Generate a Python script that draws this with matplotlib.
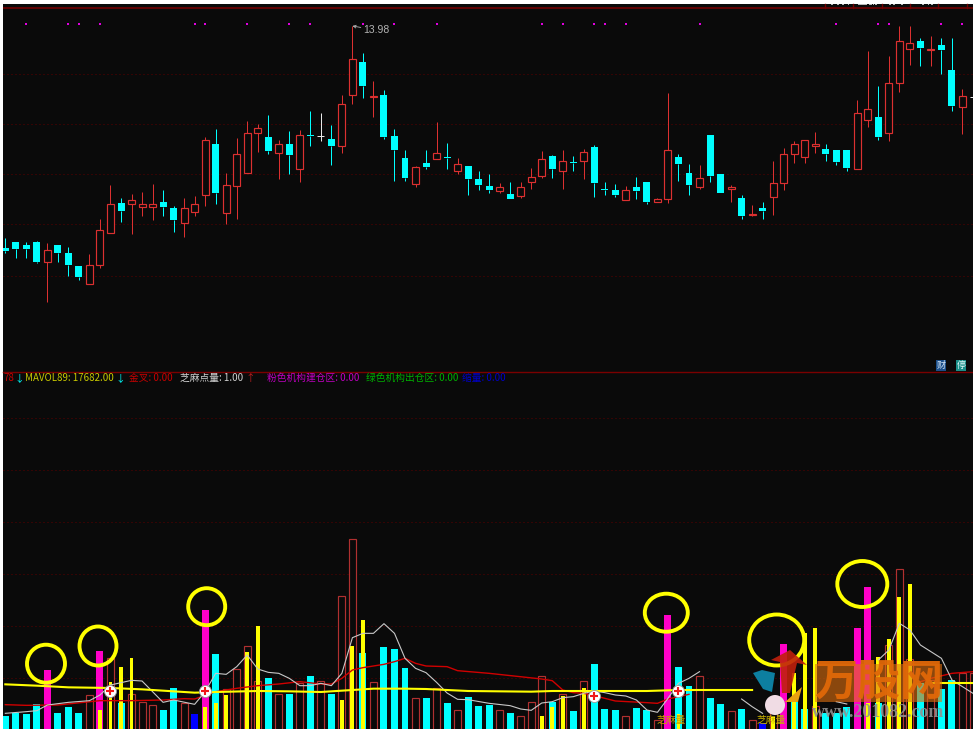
import numpy as np
import matplotlib
matplotlib.use('Agg')
import matplotlib.pyplot as plt
from matplotlib.patches import Ellipse, Rectangle, Polygon, Circle

plt.rcParams['font.family'] = ['Noto Sans CJK SC', 'DejaVu Sans']

# price candles
highs = [7.61,7.49,7.49,7.54,7.47,7.40,7.35,6.79,7.13,8.18,9.20,8.83,8.95,9.00,9.24,9.05,8.59,8.83,8.88,10.65,
         10.89,9.56,10.61,11.14,11.03,11.31,10.56,10.83,10.87,11.43,11.36,11.00,11.91,13.98,13.16,12.33,12.06,10.89,10.26,9.78,
         10.27,11.10,10.46,10.02,9.78,9.62,9.54,9.27,9.30,9.29,9.73,10.24,10.10,10.27,10.08,10.28,10.41,9.30,9.23,9.17,
         9.44,9.29,8.81,11.97,10.14,9.84,9.80,10.71,9.53,9.20,8.91,8.61,8.70,9.92,10.31,10.53,10.55,10.80,10.44,10.27,
         10.27,11.77,13.23,12.17,13.08,13.98,13.98,13.62,13.69,13.62,13.62,12.09,11.86]
tops = [7.32,7.49,7.40,7.49,7.27,7.40,7.17,6.79,6.80,7.85,8.63,8.66,8.75,8.65,8.65,8.69,8.51,8.51,8.63,10.55,
        10.43,9.21,10.13,10.76,10.91,10.65,10.45,10.43,10.70,10.71,10.69,10.58,11.65,13.00,12.89,11.89,11.91,10.67,10.01,9.74,
        9.87,10.16,10.06,9.83,9.78,9.38,9.17,9.14,8.95,9.14,9.46,9.99,10.09,9.92,9.90,10.19,10.34,9.08,9.05,9.05,
        9.14,9.29,8.80,10.25,10.06,9.58,9.41,10.70,9.53,9.14,8.83,8.33,8.51,9.26,10.13,10.43,10.55,10.43,10.29,10.26,
        10.26,11.37,11.50,11.24,12.27,13.54,13.46,13.52,13.30,13.40,12.65,11.87,11.86]
bots = [7.24,7.28,7.28,6.91,6.89,7.18,6.80,6.46,6.24,6.80,7.77,8.42,8.63,8.54,8.54,8.56,8.16,8.06,8.41,8.92,
        8.96,8.38,9.18,9.56,10.76,10.22,10.16,10.10,9.69,10.68,10.69,10.39,10.39,11.92,12.19,11.86,10.66,10.27,9.43,9.25,
        9.76,10.00,10.01,9.64,9.39,9.20,9.05,9.04,8.79,8.89,9.30,9.49,9.69,9.64,9.87,9.94,9.28,9.05,8.91,8.77,
        9.03,8.70,8.69,8.79,9.83,9.20,9.16,9.47,8.98,9.08,8.27,8.30,8.44,8.84,9.28,10.13,10.06,10.39,10.15,9.91,
        9.71,9.69,11.17,10.66,10.78,12.27,13.28,13.31,13.25,13.26,11.58,11.56,11.86]
lows = [7.18,7.03,7.03,6.86,5.70,6.91,6.49,6.35,6.24,6.72,7.77,8.10,7.74,8.27,8.15,8.29,7.81,7.66,8.29,8.59,
        8.64,8.05,8.20,9.56,10.20,10.15,9.39,9.54,9.31,10.39,10.53,9.81,10.18,11.65,11.82,11.24,10.58,9.33,9.32,9.15,
        9.69,10.00,9.69,9.53,8.92,9.07,8.97,8.97,8.79,8.82,9.09,9.42,9.43,9.09,9.63,9.39,8.85,8.92,8.85,8.77,
        8.78,8.65,8.69,8.68,9.33,8.90,9.10,9.29,8.98,8.70,8.20,8.28,8.19,8.30,9.07,9.87,9.87,10.17,9.92,9.82,
        9.63,9.69,10.95,10.56,10.53,11.99,12.81,12.77,12.77,12.54,11.43,10.75,11.86]
# r up, c down, w flat
candle_kind = ('cccc' 'r' 'ccc' 'rrr' 'c' 'rrr' 'cc' 'rrr' 'c' 'rrrr' 'c' 'r' 'c' 'r' 'c' 'w' 'c' 'rr' 'c' 'r'
               'ccc' 'r' 'c' 'r' 'c' 'r' 'ccc' 'r' 'c' 'rrr' 'c' 'r' 'c' 'r' 'ccc' 'r' 'cc' 'rr' 'cc' 'r'
               'cc' 'r' 'c' 'r' 'c' 'rrrrr' 'ccc' 'rr' 'c' 'rrr' 'c' 'r' 'cc' 'r' 'w')
dot_idx = [2,6,7,9,18,19,23,27,29,34,37,41,51,53,56,57,59,66,79,83,84,89,91]
price_grid = [12.53,11.03,9.53,8.03,6.49]
high_label = '13.98'

# volume bars, c cyan, r red outline, m magenta, b blue
volume = [9900,10900,10400,13400,23700,10800,12500,10800,16100,29300,27200,13700,16500,14100,13100,11800,18300,13900,10400,41700,
          28500,17900,23900,31000,20500,21300,16400,16400,19700,21800,20300,16600,45800,63000,28800,20200,30500,30000,24200,15200,
          15200,18200,13700,11700,15700,13000,13200,11700,10800,10000,14000,22000,14000,16400,11300,20500,25400,12000,11600,9800,
          12300,11600,8700,40200,24500,19000,21900,15400,13500,11300,12000,8700,7700,12000,31500,15000,12000,12900,10700,10700,
          12700,36300,48500,13700,31200,54000,27100,19700,20700,17900,20700,22700,22700]
vol_kind = ('cccc' 'm' 'ccc' 'r' 'm' 'r' 'c' 'rrr' 'cc' 'r' 'b' 'm' 'c' 'rrrr' 'c' 'r' 'c' 'r' 'c' 'r' 'c' 'rr' 'c' 'r'
            'ccc' 'r' 'c' 'r' 'c' 'r' 'ccc' 'r' 'c' 'rrr' 'c' 'r' 'c' 'r' 'ccc' 'r' 'cc' 'r' 'm' 'cc' 'r'
            'cc' 'r' 'c' 'r' 'b' 'r' 'm' 'cc' 'r' 'ccc' 'mm' 'c' 'rrr' 'c' 'r' 'cc' 'rr')
yellow_idx = [9,10,11,12,19,20,21,23,24,32,33,34,51,52,53,55,64,73,75,76,77,82,83,84,85,86]
yellow_val = [11700,20200,24600,27300,12700,13700,16200,29000,36900,14700,31000,38800,9900,12500,15900,18300,10500,9700,22700,34700,36300,13700,27500,32900,45500,49500]

# the three moving averages, nan where the logo hides them
ma89_idx = [0,3,6,10,13,16,18,20,24,27,30,32,33,35,38,40,42,44,50,52,56,61,64,71,72,88,92]
ma89_val = [19400,19000,18500,18300,17900,17300,16900,17100,17400,17300,17100,17500,17700,18100,18100,18000,17700,17400,17200,17400,17400,17400,17700,17700,np.nan,19800,19800]
ma_red_idx = [0,2,5,9,12,15,17,18,20,22,24,26,28,30,31,32,33,34,36,37,38,39,40,42,43,46,51,52,53,54,55,56,58,61,62,63,65,66,87,88,90,92]
ma_red_val = [13300,13100,13200,14500,14500,14700,15100,15000,17200,18200,19000,19500,20200,19500,19500,21200,23700,24400,25400,26200,27200,25700,24900,24700,23500,22700,21000,20500,17700,16900,16700,16000,14400,13900,13700,15000,16400,np.nan,20200,21200,22700,23200]
ma_white_idx = [0,2,3,4,6,8,9,10,12,13,15,16,18,19,20,21,22,23,24,25,26,27,28,29,30,31,32,33,34,35,36,37,38,39,40,41,42,43,44,46,48,49,50,51,52,53,54,55,56,57,58,59,60,61,62,63,64,65,66,67,70,71,72,73,78,79,80,81,83,84,85,86,87,88,89,90,91,92]
ma_white_val = [10700,11200,11500,13200,14000,14500,16200,19200,20600,20400,14000,14700,13400,17200,22700,22400,24700,28200,24000,23000,22700,21200,19000,19000,19700,19000,22700,33400,34700,34700,37600,34700,27200,24200,22900,20000,16800,14900,14800,13700,13000,12000,11600,13800,14200,15400,15700,16700,17400,16900,16200,15900,14700,11700,11000,15200,19700,21200,23200,np.nan,15000,12700,10700,np.nan,np.nan,14200,13500,np.nan,26700,29700,37700,35700,31200,29200,27200,20700,18700,16700]
cross_idx = [10,19,56,64]
cross_val = [17400,17400,15800,17500]
vol_grid = [99210,83600,68100,52590,36990,21420]

BG = '#0a0a0a'
RED = '#dc3030'
RED_BAR = '#b03030'
CYAN = '#00ffff'
YELLOW = '#ffff00'
GRID = '#5e0000'
PX = 0.72  # one pixel in points at dpi 100
X_MIN, X_MAX = -0.2186, 92.0

fig = plt.figure(figsize=(9.73, 7.29), dpi=100, facecolor='white')
ax1 = fig.add_axes([3/973, 1-372/729, 970/973, 368/729], facecolor=BG)
ax2 = fig.add_axes([3/973, 0, 970/973, 357/729], facecolor=BG)
ov = fig.add_axes([0, 0, 1, 1], facecolor='none')
ov.set_xlim(0, 973)
ov.set_ylim(729, 0)
ov.axis('off')

for ax in (ax1, ax2):
    ax.set_xlim(X_MIN, X_MAX)
    ax.set_xticks([])
    ax.set_yticks([])
    for s in ax.spines.values():
        s.set_visible(False)
ax1.set_ylim(3.6, 14.64)
ax2.set_ylim(6000, 113100)

# upper panel
for g in price_grid:
    ax1.axhline(g, color=GRID, lw=PX, ls=(0, (1, 3)), zorder=1)
ax1.axhline(14.52, color='#700000', lw=1.2, zorder=1)
ax1.scatter(dot_idx, [14.04]*len(dot_idx), s=4, color='#e000e0', marker='s', linewidths=0, zorder=2)

for i in range(len(highs)):
    k = candle_kind[i]
    color = {'r': RED, 'c': CYAN, 'w': '#e8e8e8'}[k]
    ax1.vlines(i, tops[i], highs[i], color=color, lw=PX, zorder=3)
    ax1.vlines(i, lows[i], bots[i], color=color, lw=PX, zorder=3)
    h = tops[i] - bots[i]
    if k == 'c':
        ax1.bar(i, h, bottom=bots[i], width=0.665, color=CYAN, lw=0, zorder=4)
    elif k == 'r':
        ax1.bar(i, h, bottom=bots[i], width=0.665, facecolor=BG, edgecolor=RED, lw=0.85, zorder=4)
    else:
        ax1.hlines(tops[i], i-0.33, i+0.33, color=color, lw=PX, zorder=4)

ax1.annotate(high_label, xy=(33, 13.98), xytext=(8, -3), textcoords='offset points',
             color='#b4b4b4', fontsize=7.5, va='center', family=['Liberation Sans'],
             arrowprops=dict(arrowstyle='->', color='#b4b4b4', lw=0.6, mutation_scale=5, shrinkA=0, shrinkB=0))

# lower panel
for g in vol_grid:
    ax2.axhline(g, color=GRID, lw=PX, ls=(0, (1, 3)), zorder=1)

for i in range(len(volume)):
    k = vol_kind[i]
    if k == 'r':
        ax2.bar(i, volume[i], width=0.665, facecolor=BG, edgecolor=RED_BAR, lw=0.85, zorder=2)
    else:
        c = {'c': CYAN, 'm': '#ff00c8', 'b': '#0000ff'}[k]
        ax2.bar(i, volume[i], width=0.665, color=c, lw=0, zorder=2)
ax2.bar(yellow_idx, yellow_val, width=0.37, color=YELLOW, lw=0, zorder=3)

ax2.plot(ma_red_idx, ma_red_val, color='#d00000', lw=1.0, zorder=4)
ax2.plot(ma_white_idx, ma_white_val, color='#c8c8c8', lw=0.8, zorder=5)
ax2.plot(ma89_idx, ma89_val, color=YELLOW, lw=1.5, zorder=6)

ax2.scatter(cross_idx, cross_val, s=75, facecolor='white', edgecolor='#999999', lw=0.6, zorder=7)
ax2.scatter(cross_idx, cross_val, s=40, marker='+', color='#f01818', lw=1.5, zorder=8)

# frame bits, overlay in pixels
ov.plot([3, 973], [371.7, 371.7], color='#7a0000', lw=1.0)
for x in [825.3, 853.3, 881.7, 910, 938.3, 966.7]:
    ov.plot([x, x], [4, 8], color='#700000', lw=1.0)
for x0, x1 in [(831,833),(837,839),(842,844),(848,849),(858,867),(869,872),(873,874),(875,877),(889,891),(893,895),(901,903),(922,924),(928,929),(931,933)]:
    ov.add_patch(Rectangle((x0, 3.5), x1-x0, 1.6, color='#b8b8b8', lw=0))

ov.add_patch(Rectangle((936, 360), 10, 11, color='#1b4f8a', lw=0))
ov.text(941, 365.5, '财', color='#d8e8f8', fontsize=6.5, ha='center', va='center')
ov.add_patch(Rectangle((956, 360), 10, 11, color='#1a8f88', lw=0))
ov.text(961, 365.5, '停', color='#e0f8f8', fontsize=6.5, ha='center', va='center')

# indicator header
header = [(3, '78', '#c80000'), (14, '↓', CYAN), (25, 'MAVOL89: 17682.00', '#c8c800'), (115, '↓', CYAN),
          (129, '金叉: 0.00', '#c80000'), (180, '芝麻点量: 1.00', '#d0d0d0'), (245, '↑', '#c02020'),
          (267, '粉色机构建仓区: 0.00', '#c000c0'), (366, '绿色机构出仓区: 0.00', '#00b000'), (462, '缩量: 0.00', '#0000c8')]
for x, txt, c in header:
    ov.text(x, 378, txt, color=c, fontsize=7, va='center', ha='left')

ov.text(671, 720, '芝麻量', color='#c8a000', fontsize=7, ha='center', va='center')
ov.text(771, 720, '芝麻量', color='#c8b000', fontsize=7, ha='center', va='center')

# hand drawn circles
for cx, cy, rx, ry in [(46, 663.7, 19, 19), (98, 646, 18.5, 19.5), (206.7, 606.7, 18.5, 18.5),
                       (666.3, 612.7, 21.5, 19), (776.7, 640, 27.5, 25.5), (862.3, 584, 25, 23)]:
    ov.add_patch(Ellipse((cx, cy), 2*rx, 2*ry, fill=False, edgecolor=YELLOW, lw=2.8, zorder=9))

# logo on top
ov.add_patch(Circle((775, 705), 10, color='#f0dce4', lw=0, zorder=10))
ov.add_patch(Polygon([(753,673),(762,670),(775,673),(772,692),(763,689)], color='#0d7fa0', lw=0, zorder=10))
ov.add_patch(Polygon([(771,660),(790,650),(807,665),(797,663),(790,693),(782,693),(780,662)], color='#c0200c', alpha=0.9, lw=0, zorder=11))
ov.add_patch(Polygon([(785,702),(802,687),(798,702)], color='#e8a010', lw=0, zorder=11))
ov.add_patch(Rectangle((815, 664), 127, 38, color='#e07010', alpha=0.6, lw=0, zorder=12))
ov.text(878.5, 682, '万股网', color='#e06808', alpha=0.95, fontsize=31, fontweight='bold', ha='center', va='center', zorder=13)
ov.text(878.5, 712.5, 'www.201082.com', color='#909090', alpha=0.9, fontsize=13, fontweight='bold',
        family=['Liberation Serif'], ha='center', va='center', zorder=13)

fig.savefig('out.png', dpi=100, facecolor='white')
